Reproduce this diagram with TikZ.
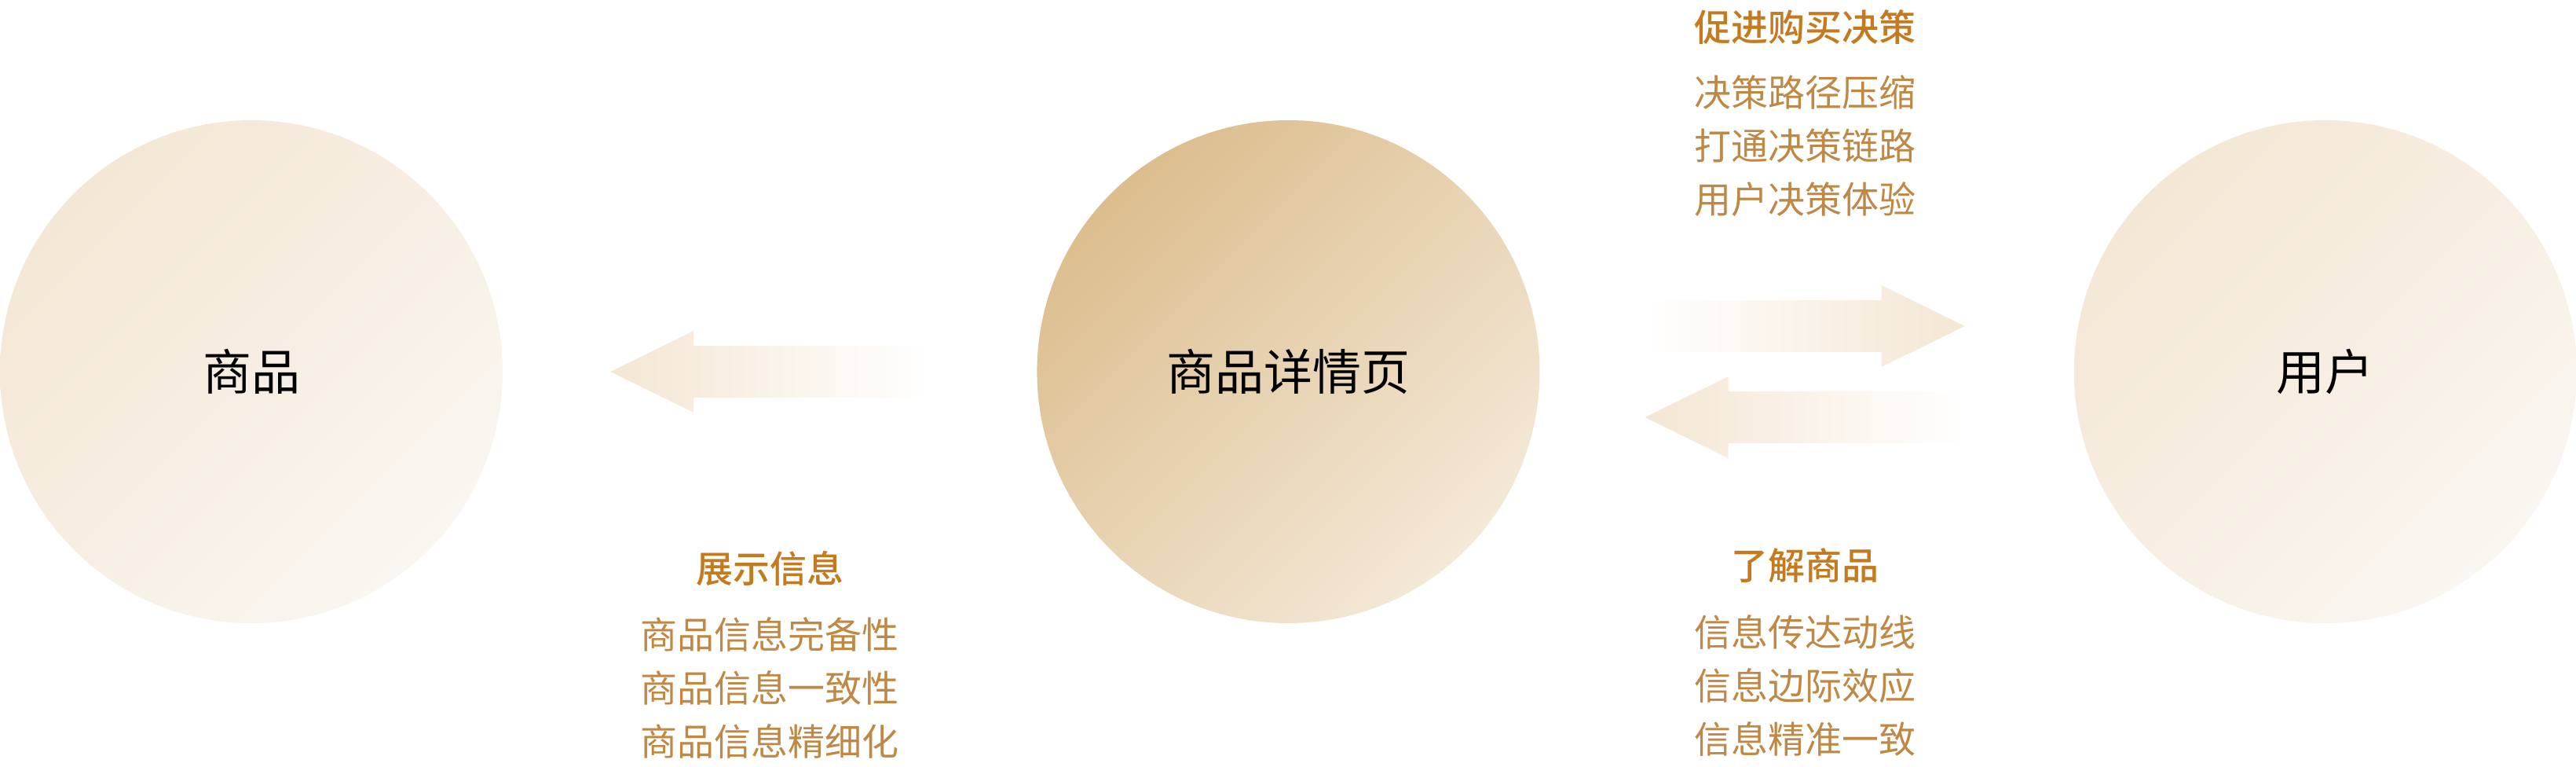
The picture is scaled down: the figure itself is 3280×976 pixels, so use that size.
\documentclass[tikz,border=0pt]{standalone}
\usepackage{fontspec}
\setmainfont{Noto Sans CJK SC}[BoldFont={Noto Sans CJK SC Medium}]
\usetikzlibrary{positioning}
\usetikzlibrary{calc}
\definecolor{HeadOrange}{HTML}{C47A1E}
\definecolor{ItemBrown}{HTML}{BF8844}
\definecolor{PaleSand}{HTML}{F4E7D5}
\definecolor{PaleCream}{HTML}{FAF6F1}
\definecolor{DeepSand}{HTML}{DCBE8E}
\definecolor{SoftSand}{HTML}{F4E8D7}
\definecolor{ArrowSand}{HTML}{F4E6D3}

% flat band arrow: style, tail, tip
\newcommand{\bandarrow}[3]{%
  \shade[#1] let \p1 = (#2), \p2 = ($(#3)!106pt!(#2)$), \p3 = (#3) in
    (\x1,{\y1+33pt}) -- (\x2,{\y1+33pt}) -- (\x2,{\y1+52pt}) -- (\p3)
    -- (\x2,{\y1-52pt}) -- (\x2,{\y1-33pt}) -- (\x1,{\y1-33pt}) -- cycle;}

\begin{document}
\begin{tikzpicture}[x=1pt, y=-1pt,
  bubble/.style={circle, minimum size=640pt, inner sep=0pt,
    font=\fontsize{62}{62}\selectfont, text=black},
  palebubble/.style={bubble, top color=PaleSand, bottom color=PaleCream, shading angle=45},
  deepbubble/.style={bubble, top color=DeepSand, bottom color=SoftSand, shading angle=45},
  headtxt/.style={font=\fontsize{47}{47}\selectfont\bfseries, text=HeadOrange, inner sep=0pt},
  itemtxt/.style={font=\fontsize{47}{68}\selectfont, text=ItemBrown, align=center, inner sep=0pt},
  toleft/.style={left color=ArrowSand, right color=white},
  toright/.style={left color=white, right color=ArrowSand}]
  \useasboundingbox (0,0) rectangle (3280,976);

  % circles
  \node[palebubble] (goods) at (320,473) {商品};
  \node[deepbubble, right=680pt of goods] (detail) {商品详情页};
  \node[palebubble, right=680pt of detail] (user) {用户};

  % arrows
  \coordinate (g-tip) at ($(goods.east)+(137,0)$);
  \coordinate (g-tail) at ($(detail.west)+(-137,0)$);
  \coordinate (u-tail) at ($(detail.east)+(135,-58)$);
  \coordinate (u-tip) at ($(user.west)+(-139,-58)$);
  \coordinate (d-tip) at ($(detail.east)+(134,58)$);
  \coordinate (d-tail) at ($(user.west)+(-138,58)$);
  \bandarrow{toleft}{g-tail}{g-tip}
  \bandarrow{toright}{u-tail}{u-tip}
  \bandarrow{toleft}{d-tail}{d-tip}

  % labels
  \node[headtxt] (show-head) at (980,723) {展示信息};
  \node[itemtxt] (show-list) at (980,875) {商品信息完备性\\商品信息一致性\\商品信息精细化};
  \node[headtxt] (buy-head) at (2298,35) {促进购买决策};
  \node[itemtxt] (buy-list) at (2298,186) {决策路径压缩\\打通决策链路\\用户决策体验};
  \node[headtxt] (know-head) at (2298,720) {了解商品};
  \node[itemtxt] (know-list) at (2298,872) {信息传达动线\\信息边际效应\\信息精准一致};
\end{tikzpicture}
\end{document}
